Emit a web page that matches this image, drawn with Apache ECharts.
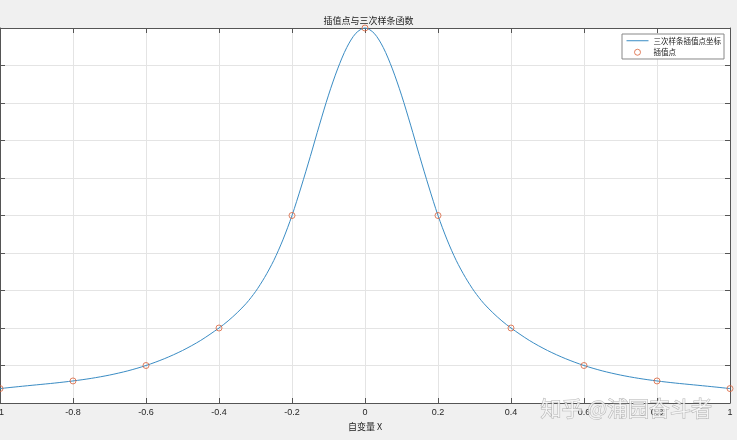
<!DOCTYPE html>
<html>
<head>
<meta charset="utf-8">
<script src="https://cdn.jsdelivr.net/npm/echarts@6/dist/echarts.min.js"></script>
<style>html,body{margin:0;padding:0;background:#f0f0f0;}#c{width:737px;height:440px;}</style>
</head>
<body>
<div id="c"></div>
<script>
// ---- data ----
const titleText = '插值点与三次样条函数';
const xAxisName = '自变量 X';
const lineName = '三次样条插值点坐标';
const nodeName = '插值点';
const xTicks = [-1, -0.8, -0.6, -0.4, -0.2, 0, 0.2, 0.4, 0.6, 0.8, 1];
const curveX = [-1, -0.95, -0.9, -0.85, -0.8, -0.75, -0.7, -0.65, -0.6, -0.55, -0.5, -0.45,
  -0.4, -0.375, -0.35, -0.325, -0.3, -0.275, -0.25, -0.225, -0.2, -0.175, -0.15, -0.125, -0.1, -0.075, -0.05, -0.025,
  0, 0.025, 0.05, 0.075, 0.1, 0.125, 0.15, 0.175, 0.2, 0.225, 0.25, 0.275, 0.3, 0.325, 0.35, 0.375, 0.4,
  0.45, 0.5, 0.55, 0.6, 0.65, 0.7, 0.75, 0.8, 0.85, 0.9, 0.95, 1];
const curveY = [0.0385, 0.0436, 0.0484, 0.0532, 0.0588, 0.0657, 0.0745, 0.0857, 0.1, 0.118, 0.140, 0.167,
  0.2, 0.219, 0.241, 0.266, 0.297, 0.335, 0.380, 0.435, 0.5, 0.576, 0.657, 0.741, 0.821, 0.891, 0.948, 0.986,
  1, 0.986, 0.948, 0.891, 0.821, 0.741, 0.657, 0.576, 0.5, 0.435, 0.380, 0.335, 0.297, 0.266, 0.241, 0.219, 0.2,
  0.167, 0.140, 0.118, 0.1, 0.0857, 0.0745, 0.0657, 0.0588, 0.0532, 0.0484, 0.0436, 0.0385];
const nodeX = [-1, -0.8, -0.6, -0.4, -0.2, 0, 0.2, 0.4, 0.6, 0.8, 1];
const nodeY = [0.0385, 0.0588, 0.1, 0.2, 0.5, 1, 0.5, 0.2, 0.1, 0.0588, 0.0385];
const watermark = '知乎 @浦园奋斗者';

const chart = echarts.init(document.getElementById('c'), null, {renderer: 'canvas'});
const axisColor = '#555';
const gridColor = '#e4e4e4';
const lineColor = '#3a8cc4';
const markerColor = '#d9623a';
const font = '"Liberation Sans", Arial, sans-serif';
const cjk = '"Noto Sans CJK SC", sans-serif';

const lineData = curveX.map((x, i) => [x, curveY[i]]);
const nodeData = nodeX.map((x, i) => [x, nodeY[i]]);

chart.setOption({
  backgroundColor: '#f0f0f0',
  animation: false,
  title: {
    text: titleText, left: 'center', top: 16, padding: 0,
    textStyle: {fontSize: 9, fontWeight: 'normal', color: '#222', fontFamily: cjk}
  },
  legend: {
    orient: 'vertical', right: 13, top: 34,
    backgroundColor: '#fff', borderColor: '#888', borderWidth: 1, borderRadius: 0,
    padding: [3, 3, 3, 4], itemGap: 4, itemWidth: 22, itemHeight: 6,
    textStyle: {fontSize: 7.5, color: '#222', fontFamily: cjk},
    data: [
      {name: lineName, itemStyle: {opacity: 0}, lineStyle: {width: 1, color: lineColor}},
      {name: nodeName, icon: 'path://M0,0m-3,0a3,3 0 1,0 6,0a3,3 0 1,0 -6,0',
        itemStyle: {color: 'rgba(255,255,255,0)', borderColor: markerColor, borderWidth: 1}}
    ]
  },
  grid: {left: 0, right: 7, top: 28, bottom: 37, containLabel: false, outerBoundsMode: 'none',
    show: true, backgroundColor: '#fff', borderWidth: 0},
  xAxis: [{
    type: 'value', min: -1, max: 1, interval: 0.2, position: 'bottom',
    name: xAxisName, nameLocation: 'middle', nameGap: 15,
    nameTextStyle: {fontSize: 9, color: '#222', fontFamily: cjk},
    axisLine: {show: true, onZero: false, lineStyle: {color: axisColor, width: 1}},
    axisTick: {show: true, inside: true, length: 5, lineStyle: {color: axisColor}},
    axisLabel: {fontSize: 9, color: '#262626', fontFamily: font, margin: 5,
      formatter: v => String(Math.round(v * 10) / 10)},
    splitLine: {show: true, lineStyle: {color: gridColor, width: 1}}
  }, {
    type: 'value', min: -1, max: 1, interval: 0.2, position: 'top',
    axisLine: {show: true, onZero: false, lineStyle: {color: axisColor, width: 1}},
    axisTick: {show: true, inside: true, length: 5, lineStyle: {color: axisColor}},
    axisLabel: {show: false}, splitLine: {show: false}
  }],
  yAxis: [{
    type: 'value', min: 0, max: 1, interval: 0.1, position: 'left',
    axisLine: {show: true, onZero: false, lineStyle: {color: axisColor, width: 1}},
    axisTick: {show: true, inside: true, length: 5, lineStyle: {color: axisColor}},
    axisLabel: {show: false},
    splitLine: {show: true, lineStyle: {color: gridColor, width: 1}}
  }, {
    type: 'value', min: 0, max: 1, interval: 0.1, position: 'right',
    axisLine: {show: true, onZero: false, lineStyle: {color: axisColor, width: 1}},
    axisTick: {show: true, inside: true, length: 5, lineStyle: {color: axisColor}},
    axisLabel: {show: false}, splitLine: {show: false}
  }],
  series: [{
    name: lineName, type: 'line', data: lineData, smooth: 0.3,
    symbol: 'none', clip: false,
    lineStyle: {color: lineColor, width: 1},
    itemStyle: {color: lineColor}
  }, {
    name: nodeName, type: 'scatter', data: nodeData, symbol: 'circle', symbolSize: 6, clip: false,
    itemStyle: {color: 'rgba(255,255,255,0)', borderColor: markerColor, borderWidth: 1},
    z: 5
  }],
  graphic: [{
    type: 'text', left: 540, top: 397, z: 100,
    style: {text: watermark, fontSize: 21, fontFamily: cjk, fill: 'rgba(255,255,255,0.75)',
      stroke: 'rgba(150,150,150,0.7)', lineWidth: 1}
  }]
});
</script>
</body>
</html>
